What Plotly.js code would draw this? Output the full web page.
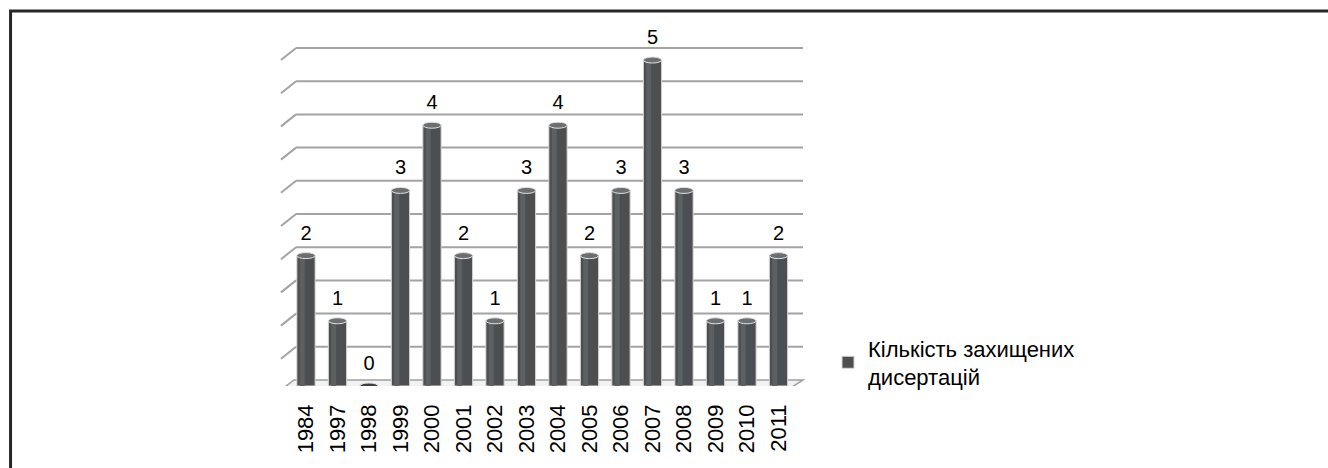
<!DOCTYPE html>
<html>
<head>
<meta charset="utf-8">
<script src="https://cdn.plot.ly/plotly-3.0.1.min.js"></script>
<style>
html,body{margin:0;padding:0;background:#fff;}
#chart{width:1328px;height:468px;}
</style>
</head>
<body>
<div id="chart"></div>
<script>
// ---- data ----
const years = ["1984","1997","1998","1999","2000","2001","2002","2003","2004","2005","2006","2007","2008","2009","2010","2011"];
const counts = [2,1,0,3,4,2,1,3,4,2,3,5,3,1,1,2];
const seriesName = "Кількість захищених<br>дисертацій";
const gridVals = [0,0.5,1,1.5,2,2.5,3,3.5,4,4.5,5];

const FONT = '"Liberation Sans", Arial, sans-serif';
const barW = 0.58;

const traces = [
  {
    type: 'bar', x: years, y: counts, name: seriesName,
    width: barW,
    marker: {color: '#4b4f51', line: {color: '#d6d6d6', width: 1}},
    hoverinfo: 'skip', showlegend: true
  },
  {
    type: 'bar', x: years, y: counts, width: 0.16, offset: -0.2,
    marker: {color: '#5c6063', line: {width: 0}},
    hoverinfo: 'skip', showlegend: false
  },
  {
    type: 'scatter', mode: 'markers+text', x: years, y: counts,
    text: counts.map(String), textposition: 'top center',
    marker: {size: 16, opacity: 0},
    textfont: {family: FONT, size: 20, color: '#000'},
    cliponaxis: false, hoverinfo: 'skip', showlegend: false
  }
];

const shapes = [];
// floor
shapes.push({
  type: 'path', layer: 'below', xref: 'paper', yref: 'y2',
  ysizemode: 'pixel', yanchor: 0,
  path: 'M 0.0229,0 L 1,0 L 0.97,-10 L -0.002,-10 Z',
  fillcolor: '#f2f2f2', line: {color: '#a0a0a0', width: 1.5}
});
// back wall gridlines
gridVals.forEach(v => {
  if (v === 0) return;
  shapes.push({type: 'line', layer: 'below', xref: 'paper', yref: 'y2',
    x0: 0.027, x1: 1, y0: v, y1: v, line: {color: '#a3a3a3', width: 2}});
  shapes.push({type: 'line', layer: 'below', xref: 'paper', yref: 'y2',
    ysizemode: 'pixel', yanchor: v,
    x0: -0.002, x1: 0.027, y0: -12, y1: 0, line: {color: '#a3a3a3', width: 2}});
});
// cylinder ends
counts.forEach((c, i) => {
  shapes.push({type: 'circle', layer: 'below', xref: 'x', yref: 'y',
    ysizemode: 'pixel', yanchor: 0,
    x0: i - barW/2, x1: i + barW/2, y0: -3, y1: 3,
    fillcolor: '#4b4f51', line: {color: '#d6d6d6', width: 1}});
  shapes.push({type: 'circle', layer: 'above', xref: 'x', yref: 'y',
    ysizemode: 'pixel', yanchor: c,
    x0: i - barW/2, x1: i + barW/2, y0: -3, y1: 3,
    fillcolor: c === 0 ? '#3c4042' : '#6b6f71', line: {color: '#e2e2e2', width: 1}});
});
// outer frame
shapes.push({type: 'path', layer: 'above', xref: 'paper', yref: 'paper',
  path: 'M -0.521,-0.3 L -0.521,1.084 L 2.1,1.084',
  line: {color: '#262626', width: 3}});

const layout = {
  width: 1328, height: 468,
  margin: {l: 282, r: 525, t: 40, b: 82},
  paper_bgcolor: '#fff', plot_bgcolor: 'rgba(0,0,0,0)',
  font: {family: FONT, color: '#000'},
  barmode: 'overlay',
  xaxis: {
    type: 'category', domain: [0.0158, 0.9832], range: [-0.5, 15.5],
    tickangle: -90, tickfont: {family: FONT, size: 22, color: '#000'},
    showgrid: false, zeroline: false, showline: false, ticks: '',
    ticklabelstandoff: 13, fixedrange: true
  },
  yaxis: {range: [0, 5.307], visible: false, showgrid: false, zeroline: false, fixedrange: true},
  yaxis2: {range: [-0.0904, 5.1205], overlaying: 'y', visible: false, showgrid: false, zeroline: false, fixedrange: true},
  legend: {
    x: 1.048, y: 0.17, xanchor: 'left', yanchor: 'top',
    font: {family: FONT, size: 22, color: '#000'},
    bgcolor: 'rgba(0,0,0,0)', itemwidth: 30, tracegroupgap: 0
  },
  shapes: shapes,
  showlegend: true
};

Plotly.newPlot('chart', traces, layout, {displayModeBar: false, staticPlot: true});
</script>
</body>
</html>
